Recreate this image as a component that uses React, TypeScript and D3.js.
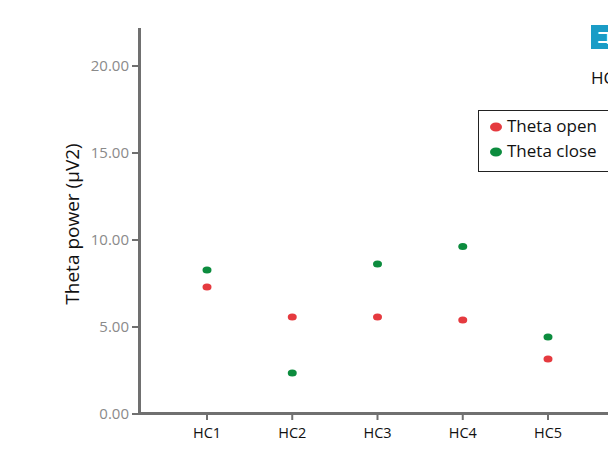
import React from "react";
import * as d3 from "d3";

const categories = ["HC1", "HC2", "HC3", "HC4", "HC5"];
const thetaOpen = [7.3, 5.57, 5.57, 5.4, 3.16];
const thetaClose = [8.28, 2.36, 8.62, 9.63, 4.43];
const yTicks = [0, 5, 10, 15, 20];
const seriesNames = ["Theta open", "Theta close"];
const seriesColors = ["#e53a3f", "#0c8c3e"];

export default function App() {
  const W = 608, H = 451;
  const x = d3.scalePoint<string>().domain(categories).range([207, 548]);
  const y = d3.scaleLinear().domain([0, 20]).range([414, 66]);
  const axisColor = "#707070";
  const font = "'Open Sans', 'Noto Sans', sans-serif";
  const series = [thetaOpen, thetaClose];
  return (
    <svg width={W} height={H} style={{ position: "absolute", left: 0, top: 0 }}>
      <rect width={W} height={H} fill="#fff" />
      {/* y axis */}
      <line x1={139.5} x2={139.5} y1={28} y2={415} stroke={axisColor} strokeWidth={3} />
      {yTicks.map((t) => (
        <g key={t}>
          <line x1={132} x2={139} y1={y(t)} y2={y(t)} stroke={axisColor} strokeWidth={2} />
          <text x={129} y={y(t) + 5} textAnchor="end" fontSize={15} fill="#8a8a8a" fontFamily={font}>
            {t.toFixed(2)}
          </text>
        </g>
      ))}
      {/* x axis */}
      <line x1={138} x2={W} y1={413.5} y2={413.5} stroke={axisColor} strokeWidth={3} />
      {categories.map((c) => (
        <g key={c}>
          <line x1={x(c)} x2={x(c)} y1={414} y2={420} stroke={axisColor} strokeWidth={2} />
          <text x={x(c)} y={438} textAnchor="middle" fontSize={14.5} fill="#111" fontFamily={font}>
            {c}
          </text>
        </g>
      ))}
      <text
        transform={`translate(79,224) rotate(-90)`}
        textAnchor="middle"
        fontSize={19}
        fill="#111"
        fontFamily={font}
      >
        Theta power (μV2)
      </text>
      {series.map((s, si) =>
        s.map((v, i) => (
          <ellipse
            key={`${si}-${i}`}
            cx={x(categories[i])}
            cy={y(v)}
            rx={4.5}
            ry={3.5}
            fill={seriesColors[si]}
          />
        ))
      )}
      {/* legend */}
      <rect x={478.5} y={110.5} width={150} height={61} fill="#fff" stroke="#222" strokeWidth={1} />
      {seriesNames.map((n, i) => (
        <g key={n}>
          <ellipse cx={496} cy={127 + i * 25} rx={6} ry={4.5} fill={seriesColors[i]} />
          <text x={507} y={132 + i * 25} fontSize={17} fill="#111" fontFamily={font}>
            {n}
          </text>
        </g>
      ))}
      {/* clipped elements at top right */}
      <rect x={591} y={25} width={30} height={24} fill="#1a9cc6" />
      <text x={596} y={43} fontSize={15} fill="#fff" fontFamily="'Noto Sans CJK JP'" fontWeight="bold">
        コ
      </text>
      <text x={591} y={84} fontSize={17} fill="#111" fontFamily={font}>
        HC
      </text>
    </svg>
  );
}
